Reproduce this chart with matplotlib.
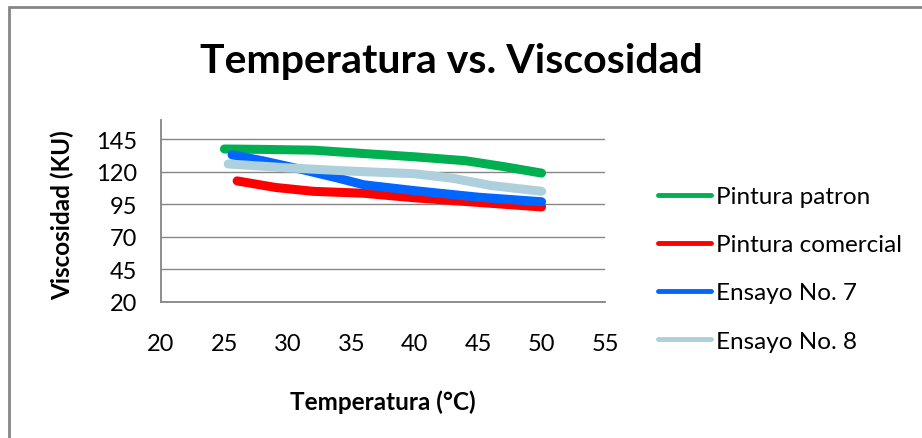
import matplotlib
matplotlib.use("Agg")
import matplotlib.pyplot as plt
from matplotlib.patches import Rectangle

plt.rcParams['font.family'] = ['Lato', 'DejaVu Sans']

# Data
temp_patron = [25, 28, 32, 36, 40, 44, 47, 50]
visc_patron = [137.5, 137.2, 136.6, 134, 131.5, 128.5, 124, 119]

temp_comercial = [26, 29, 32, 36, 40, 45, 50]
visc_comercial = [113, 108, 105, 103.5, 100, 96.5, 93]

temp_ens7 = [25.6, 28, 31, 34, 36, 40, 45, 50]
visc_ens7 = [133, 128.5, 122, 115, 110, 105.5, 100.5, 97]

temp_ens8 = [25.3, 30, 35, 40, 43, 46, 50]
visc_ens8 = [126, 123, 120.5, 118.5, 115, 109.5, 105]

labels = ['Pintura patron', 'Pintura comercial', 'Ensayo No. 7', 'Ensayo No. 8']
colors = ['#00b050', '#ff0000', '#0066ff', '#aecfdc']

x_ticks = [20, 25, 30, 35, 40, 45, 50, 55]
y_ticks = [20, 45, 70, 95, 120, 145]

fig = plt.figure(figsize=(9.22, 4.39), dpi=100)
ax = fig.add_axes([161 / 922, 1 - 303 / 439, 444 / 922, (303 - 120.7) / 439])

series = [(temp_patron, visc_patron), (temp_comercial, visc_comercial),
          (temp_ens7, visc_ens7), (temp_ens8, visc_ens8)]
lines = []
for (t, v), lab, c in zip(series, labels, colors):
    ln, = ax.plot(t, v, color=c, lw=6.5, solid_capstyle='round',
                  solid_joinstyle='round', label=lab)
    lines.append(ln)

ax.set_xlim(20, 55)
ax.set_ylim(20, 160)
ax.set_xticks(x_ticks)
ax.set_yticks(y_ticks)
ax.tick_params(axis='x', length=0, pad=22.5, labelsize=17, colors='#000000')
ax.tick_params(axis='y', length=0, pad=17, labelsize=17, colors='#000000')
ax.yaxis.grid(True, color='#868686', lw=1)
ax.set_axisbelow(True)
for s in ['top', 'right']:
    ax.spines[s].set_visible(False)
for s in ['left', 'bottom']:
    ax.spines[s].set_color('#868686')
    ax.spines[s].set_linewidth(1.3)

fig.text(451 / 922, 1 - 62 / 439, 'Temperatura vs. Viscosidad', ha='center',
         va='center', fontsize=29.5, fontweight='bold')
fig.text(383 / 922, 1 - 402 / 439, 'Temperatura (°C)', ha='center', va='center',
         fontsize=17.5, fontweight='bold')
fig.text(62 / 922, 1 - 215 / 439, 'Viscosidad (KU)', ha='center', va='center',
         rotation=90, fontsize=17.5, fontweight='bold')

leg = fig.legend(handles=lines, loc='upper left',
                 bbox_to_anchor=(658 / 922, 1 - 187 / 439), frameon=False,
                 fontsize=17.5, handlelength=2.2, handletextpad=0.2,
                 labelspacing=1.12, borderpad=0, borderaxespad=0)
for h in leg.legend_handles:
    h.set_linewidth(3.5)

# chart area border (left and top visible)
fig.patches.append(Rectangle((9 / 922, -0.1), 1.2, 1.1 - 8 / 439,
                             transform=fig.transFigure, fill=False,
                             edgecolor='#868686', lw=2))

fig.savefig('out.png', dpi=100)
